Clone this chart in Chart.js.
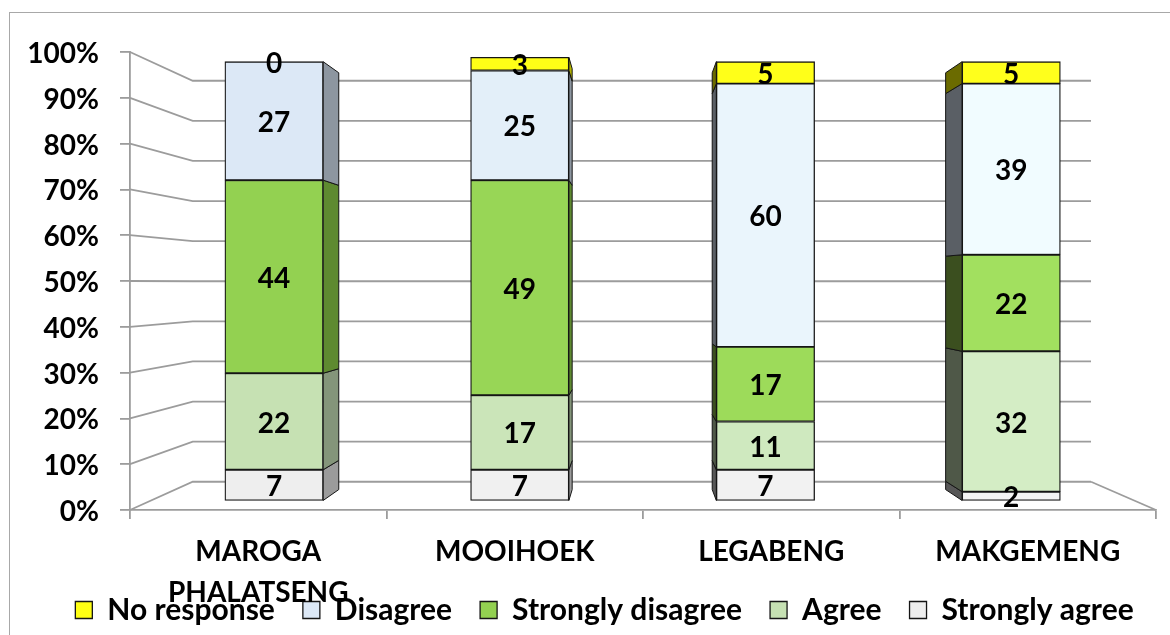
<!DOCTYPE html>
<html>
<head>
<meta charset="utf-8">
<script src="https://cdn.jsdelivr.net/npm/chart.js@4.4.1/dist/chart.umd.min.js"></script>
<style>
  html, body { margin: 0; padding: 0; background: #ffffff; }
  #wrap { width: 1170px; height: 635px; }
</style>
</head>
<body>
<div id="wrap"><canvas id="c" width="1170" height="635"></canvas></div>
<script>
// Villages on the horizontal axis
const categories = [['MAROGA', 'PHALATSENG'], 'MOOIHOEK', 'LEGABENG', 'MAKGEMENG'];

// Responses per village (percent), stacked bottom to top
const stronglyAgree    = [7, 7, 7, 2];
const agree            = [22, 17, 11, 32];
const stronglyDisagree = [44, 49, 17, 22];
const disagree         = [27, 25, 60, 39];
const noResponse       = [0, 3, 5, 5];

// Value axis tick values
const percentTicks = [0, 10, 20, 30, 40, 50, 60, 70, 80, 90, 100];

const FONT = 'Lato';
const GRID = '#9c9c9c';

// Plot box (front plane) and a simple perspective for the 3-D look
const area = { left: 130, right: 1156, top: 52, bottom: 510 };
const padLeft = 39;
const vp = { x: 634, y: 283 };      // vanishing point
const wallDepth = 0.8755;           // back wall scale relative to the front plane
const faceDepth = 0.958;            // front face of the columns
const backDepth = 0.91;             // back face of the columns
const gapShare = 0.4;               // column width as a share of a category slot

const legendFont = 30, legendGap = 28;
const legendHeight = legendFont + legendGap + 10;

function project(x, y, k) {
  return { x: vp.x + (x - vp.x) * k, y: vp.y + (y - vp.y) * k };
}

// Scales for the columns, so that they sit on the receding face plane
const W = area.right - area.left, H = area.bottom - area.top, n = categories.length;
const xbMin = n * (1 - faceDepth) * (area.left - vp.x) / (faceDepth * W) - 0.5;
const xbMax = n * ((1 - faceDepth) * (area.left - vp.x) + W) / (faceDepth * W) - 0.5;
const ybMin = (1 - faceDepth) * (vp.y - area.bottom) * 100 / (faceDepth * H);
const ybMax = (vp.y * (1 - faceDepth) + faceDepth * area.bottom - area.top) * 100 / (faceDepth * H);
const barW = faceDepth * (W / n) * gapShare;

function hex(c) { return [1, 3, 5].map(i => parseInt(c.substr(i, 2), 16)); }
function mix(a, b, t) {
  const A = hex(a), B = hex(b);
  return 'rgb(' + A.map((v, i) => Math.round(v + (B[i] - v) * t)).join(',') + ')';
}

const series = [
  { label: 'Strongly agree',    values: stronglyAgree,    face: ['#eeeeee', '#f4f4f4'], key: '#f2f2f2', sideR: '#9b9b9b', sideL: '#575757' },
  { label: 'Agree',             values: agree,            face: ['#c6e1b3', '#d4edc5'], key: '#c4dfb2', sideR: '#84957a', sideL: '#4f5848' },
  { label: 'Strongly disagree', values: stronglyDisagree, face: ['#93d151', '#a2e05f'], key: '#92d050', sideR: '#5e8a30', sideL: '#3b4f1f' },
  { label: 'Disagree',          values: disagree,         face: ['#dce8f6', '#f1fcff'], key: '#dce6f2', sideR: '#8d96a0', sideL: '#5a5f65' },
  { label: 'No response',       values: noResponse,       face: ['#ffff14', '#ffff1c'], key: '#ffff00', sideR: '#b3b300', sideL: '#6b6b00' }
];

const datasets = series.map(s => ({
  label: s.label,
  data: s.values.map((v, i) => ({ x: i, y: v })),
  backgroundColor: ctx => ctx.dataIndex === undefined ? s.key : mix(s.face[0], s.face[1], ctx.dataIndex / (n - 1)),
  borderColor: '#151515',
  borderWidth: 1.3,
  borderSkipped: false,
  barThickness: barW,
  xAxisID: 'xb',
  yAxisID: 'yb',
  sideR: s.sideR,
  sideL: s.sideL
}));

// Tick labels may spill outside their axis box (two-line category names)
function noLabelClip(s) { s._computeLabelArea = () => undefined; }

// White page with the thin chart frame
const framePlugin = {
  id: 'frame',
  beforeDraw(chart) {
    const ctx = chart.ctx;
    ctx.save();
    ctx.fillStyle = '#ffffff';
    ctx.fillRect(0, 0, chart.width, chart.height);
    ctx.strokeStyle = '#a8a8a8';
    ctx.lineWidth = 1;
    ctx.strokeRect(9.5, 12.5, chart.width + 40, chart.height + 40);
    ctx.restore();
  }
};

// Side wall, back wall and floor, plus the visible side faces of the columns
const depthPlugin = {
  id: 'depth',
  beforeDatasetsDraw(chart) {
    const ctx = chart.ctx, ys = chart.scales.y, ca = chart.chartArea;
    ctx.save();
    ctx.strokeStyle = GRID;
    ctx.lineWidth = 1.8;
    ys.ticks.forEach(t => {
      const yf = ys.getPixelForValue(t.value);
      const a = project(ca.left, yf, wallDepth);
      const b = project(ca.right, yf, wallDepth);
      ctx.beginPath();
      ctx.moveTo(ca.left, yf);
      ctx.lineTo(a.x, a.y);
      ctx.lineTo(b.x, b.y);
      ctx.stroke();
    });
    const f0 = ys.getPixelForValue(0);
    const c = project(ca.right, f0, wallDepth);
    ctx.beginPath();
    ctx.moveTo(c.x, c.y);
    ctx.lineTo(ca.right, f0);
    ctx.stroke();

    const r = backDepth / faceDepth;
    ctx.lineWidth = 1;
    ctx.strokeStyle = '#151515';
    chart.data.datasets.forEach((ds, di) => {
      const meta = chart.getDatasetMeta(di);
      meta.data.forEach(el => {
        const p = el.getProps(['x', 'y', 'base', 'width'], true);
        const top = Math.min(p.y, p.base), bot = Math.max(p.y, p.base);
        if (bot - top < 0.5) return;
        const right = p.x < vp.x;
        const edge = right ? p.x + p.width / 2 : p.x - p.width / 2;
        const q1 = project(edge, top, r), q2 = project(edge, bot, r);
        ctx.fillStyle = right ? ds.sideR : ds.sideL;
        ctx.beginPath();
        ctx.moveTo(edge, top);
        ctx.lineTo(q1.x, q1.y);
        ctx.lineTo(q2.x, q2.y);
        ctx.lineTo(edge, bot);
        ctx.closePath();
        ctx.fill();
        ctx.stroke();
      });
    });
    ctx.restore();
  },
  afterDatasetsDraw(chart) {
    const ctx = chart.ctx;
    ctx.save();
    ctx.fillStyle = '#000000';
    ctx.font = 'bold 28px ' + FONT;
    ctx.textAlign = 'center';
    ctx.textBaseline = 'middle';
    chart.data.datasets.forEach((ds, di) => {
      const meta = chart.getDatasetMeta(di);
      meta.data.forEach((el, i) => {
        const p = el.getProps(['x', 'y', 'base'], true);
        ctx.fillText(String(ds.data[i].y), p.x, (p.y + p.base) / 2 + 2);
      });
    });
    ctx.restore();
  }
};

new Chart(document.getElementById('c'), {
  type: 'bar',
  data: { labels: categories, datasets },
  options: {
    responsive: false,
    animation: false,
    devicePixelRatio: 1,
    layout: { padding: { top: area.top, right: 0, bottom: 0, left: padLeft } },
    plugins: {
      tooltip: { enabled: false },
      legend: {
        position: 'bottom',
        reverse: true,
        labels: {
          boxWidth: 17,
          boxHeight: 17,
          padding: legendGap,
          color: '#000000',
          font: { family: FONT, weight: 'bold', size: legendFont }
        }
      }
    },
    scales: {
      x: {
        type: 'category',
        labels: categories,
        position: 'bottom',
        offset: true,
        grid: { offset: true, drawOnChartArea: false, tickLength: 9, color: GRID, lineWidth: 1.8 },
        border: { color: GRID, width: 1.8 },
        ticks: {
          color: '#000000',
          padding: 13,
          maxRotation: 0,
          autoSkip: false,
          font: { family: FONT, weight: 'bold', size: 28, lineHeight: 1.45 }
        },
        afterFit(s) {
          s.height = 635 - area.bottom - legendHeight;
          noLabelClip(s);
        }
      },
      y: {
        type: 'linear',
        position: 'left',
        min: percentTicks[0],
        max: percentTicks[percentTicks.length - 1],
        afterBuildTicks(s) { s.ticks = percentTicks.map(v => ({ value: v })); },
        grid: { drawOnChartArea: false, tickLength: 10, color: GRID, lineWidth: 1.8 },
        border: { color: GRID, width: 1.8 },
        ticks: {
          color: '#000000',
          padding: 21,
          labelOffset: 2,
          callback: v => v + '%',
          font: { family: FONT, weight: 'bold', size: 28 }
        },
        afterFit(s) {
          s.width = area.left - padLeft;
          noLabelClip(s);
        }
      },
      // empty right-hand margin between the floor edge and the frame
      yr: {
        type: 'linear',
        position: 'right',
        min: 0,
        max: 100,
        grid: { display: false },
        border: { display: false },
        ticks: { display: false },
        afterFit(s) { s.width = 1170 - area.right; }
      },
      xb: { type: 'linear', display: false, stacked: true, offset: false, min: xbMin, max: xbMax, grid: { offset: false } },
      yb: { type: 'linear', display: false, stacked: true, min: ybMin, max: ybMax }
    }
  },
  plugins: [framePlugin, depthPlugin]
});
</script>
</body>
</html>
